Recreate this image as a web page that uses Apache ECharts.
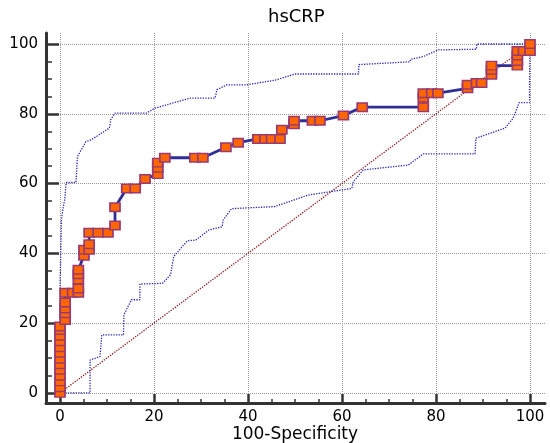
<!DOCTYPE html>
<html>
<head>
<meta charset="utf-8">
<script src="https://cdn.jsdelivr.net/npm/echarts@6/dist/echarts.min.js"></script>
<style>
html,body{margin:0;padding:0;background:#fff;}
#chart{width:550px;height:443px;}
</style>
</head>
<body>
<div id="chart"></div>
<script>
// Tick values
const xTicks = [0, 20, 40, 60, 80, 100];
const yTicks = [0, 20, 40, 60, 80, 100];

// ROC curve points (100-Specificity, Sensitivity)
const rocX = [0,0,0,0,0,0,0,0,0,0,0,0,0,
  1.1,1.1,1.1,1.1,1.1, 2.7,
  3.9,3.9,3.9,3.9,3.9,
  5.1,5.1, 6.2,6.2,6.2, 8.1,10.2,
  11.7,11.7, 14.2,16.0, 18.1,
  20.8,20.8,20.8, 22.3, 28.7,30.4, 35.3, 37.9,
  42.1,43.6,45.0,46.8, 47.2, 49.8,49.8, 53.7,55.3, 60.3, 64.3,
  77.3,77.3,77.3, 79.1,80.4, 86.7,86.7, 88.6,89.7,
  91.8,91.8,91.8, 97.3,97.3,97.3,97.3, 98.6, 100, 100];
const rocY = [0,1.6,3.3,4.9,6.6,8.2,9.8,11.5,13.1,14.8,16.4,18.0,19.0,
  20.9,22.8,24.2,25.9,28.7, 28.7,
  28.7,29.9,32.5,34.0,35.3,
  39.3,41.0, 41.0,42.6,45.9, 45.9,45.9,
  48.0,53.2, 58.6,58.6, 61.3,
  62.7,64.5,66.0, 67.4, 67.4,67.4, 70.4, 71.7,
  72.8,72.8,72.8,72.8, 75.4, 77.0,78.0, 78.0,78.0, 79.5, 81.9,
  81.9,84.6,85.9, 85.9,85.9, 87.3,88.3, 88.8,88.8,
  91.2,92.6,93.8, 93.8,95.1,96.7,98.0, 98.0, 98.0, 100];

// Upper confidence bound
const upperX = [0, 0, 0.3, 0.7, 1.0, 1.3, 3.4, 3.7, 5.5, 6.6, 10.5, 10.8, 11.7, 18.4, 20.2, 27.7, 33.0, 33.4, 35.5, 39.7, 45.7, 50.0, 63.5, 63.6, 74.5, 74.6, 77.3, 80.5, 88.6, 88.7, 100];
const upperY = [0, 30, 49.6, 53.4, 55.3, 60.3, 60.3, 67.7, 72.0, 72.5, 75.9, 78.3, 80.2, 80.2, 81.6, 84.5, 84.5, 86.9, 88.3, 88.3, 89.6, 91.4, 91.4, 94.1, 94.9, 95.6, 96.4, 98.3, 98.5, 100, 100];

// Lower confidence bound
const lowerX = [0, 6.4, 6.4, 8.5, 8.9, 13.5, 13.6, 15.2, 17.0, 17.0, 21.8, 23.5, 24.2, 27.1, 28.9, 31.7, 34.5, 34.7, 34.8, 36.5, 45.7, 52.8, 62.1, 62.4, 64.5, 74.1, 77.3, 88.3, 88.5, 94.7, 96.4, 97.7, 99.9, 99.9, 100];
const lowerY = [0, 0, 9.4, 10.4, 16.6, 16.6, 22.4, 26.7, 26.7, 31.2, 31.4, 33.8, 39.1, 43.6, 43.8, 46.7, 47.6, 49.5, 50.0, 52.8, 53.4, 56.7, 58.6, 60.5, 63.9, 65.3, 68.5, 68.5, 73.0, 75.9, 78.7, 83.2, 83.2, 89.2, 100];

// Reference diagonal
const diagX = [0, 100];
const diagY = [0, 100];

const zip = (xs, ys) => xs.map((x, i) => [x, ys[i]]);

const FONT = 'DejaVu Sans';
const chart = echarts.init(document.getElementById('chart'), null, {renderer: 'canvas'});

const option = {
  backgroundColor: '#fff',
  animation: false,
  title: {
    text: 'hsCRP',
    left: 263,
    top: 3,
    textStyle: {fontFamily: FONT, fontSize: 18, fontWeight: 'normal', color: '#000'}
  },
  grid: [
    {left: 46, right: 5, top: 33, bottom: 40, containLabel: false, outerBoundsMode: 'none'},
    {left: 60, right: 20, top: 44, bottom: 50, containLabel: false, outerBoundsMode: 'none'}
  ],
  xAxis: [
    {
      gridIndex: 0, type: 'value', min: -2.98, max: 103.19,
      axisLine: {show: true, onZero: false, lineStyle: {color: '#333', width: 3}},
      axisTick: {show: false, customValues: xTicks},
      axisLabel: {show: false, customValues: xTicks},
      splitLine: {show: true, lineStyle: {color: '#9a9a9a', type: 'dotted', width: 1}}
    },
    {
      gridIndex: 1, type: 'value', min: 0, max: 100, interval: 20, offset: 10,
      axisLine: {show: false, onZero: false},
      axisTick: {show: true, inside: true, length: 9, lineStyle: {color: '#333', width: 2.5}},
      minorTick: {show: true, splitNumber: 4, length: 4, lineStyle: {color: '#333', width: 1.5}},
      axisLabel: {margin: 7, fontFamily: FONT, fontSize: 15, color: '#000'},
      splitLine: {show: false},
      name: '100-Specificity', nameLocation: 'middle', nameGap: 23, nameMoveOverlap: false,
      nameTextStyle: {fontFamily: FONT, fontSize: 17, color: '#000'}
    }
  ],
  yAxis: [
    {
      gridIndex: 0, type: 'value', min: -2.9, max: 103.15,
      axisLine: {show: true, onZero: false, lineStyle: {color: '#333', width: 3}},
      axisTick: {show: false, customValues: yTicks},
      axisLabel: {show: false, customValues: yTicks},
      splitLine: {show: true, lineStyle: {color: '#9a9a9a', type: 'dotted', width: 1}}
    },
    {
      gridIndex: 1, type: 'value', min: 0, max: 100, interval: 20, offset: 14,
      axisLine: {show: false, onZero: false},
      axisTick: {show: true, inside: true, length: 13, lineStyle: {color: '#333', width: 2.5}},
      minorTick: {show: true, splitNumber: 4, length: 6, lineStyle: {color: '#333', width: 1.5}},
      axisLabel: {margin: 8, fontFamily: FONT, fontSize: 15, color: '#000'},
      splitLine: {show: false}
    }
  ],
  series: [
    {
      type: 'line', xAxisIndex: 0, yAxisIndex: 0, data: zip(diagX, diagY),
      symbol: 'none', silent: true, z: 2,
      lineStyle: {color: '#8b1a1a', width: 1.3, type: [1.3, 1.3]}
    },
    {
      type: 'line', xAxisIndex: 0, yAxisIndex: 0, data: zip(upperX, upperY),
      symbol: 'none', silent: true, z: 2,
      lineStyle: {color: '#2828b0', width: 1.3, type: [1.3, 1.3]}
    },
    {
      type: 'line', xAxisIndex: 0, yAxisIndex: 0, data: zip(lowerX, lowerY),
      symbol: 'none', silent: true, z: 2,
      lineStyle: {color: '#2828b0', width: 1.3, type: [1.3, 1.3]}
    },
    {
      type: 'line', xAxisIndex: 0, yAxisIndex: 0, data: zip(rocX, rocY),
      symbol: 'rect', symbolSize: [10, 8.5], showAllSymbol: true, clip: false, z: 3,
      lineStyle: {color: '#2e2e96', width: 2.8},
      itemStyle: {color: '#ff6600', borderColor: '#9a3a72', borderWidth: 1.6}
    }
  ]
};
chart.setOption(option);
</script>
</body>
</html>
